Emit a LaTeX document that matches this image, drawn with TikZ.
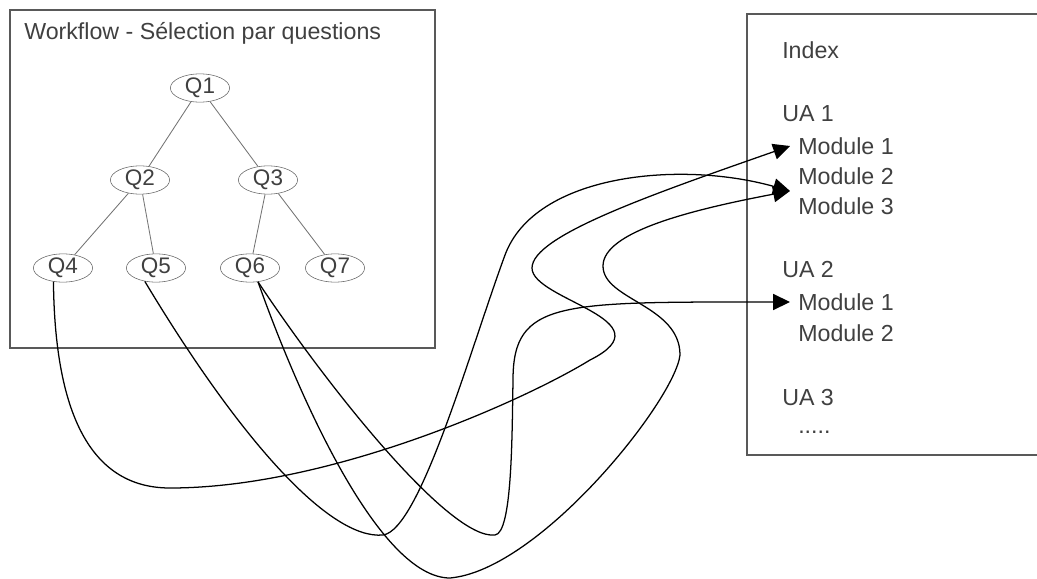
\documentclass[tikz,border=0pt]{standalone}
\usepackage{fontspec}
\setmainfont{Liberation Sans}
\usetikzlibrary{shapes.geometric,arrows.meta,calc}

\begin{document}
\begin{tikzpicture}[x=0.025cm,y=-0.025cm,
question/.style={ellipse, draw=black!60, text=black!75, minimum width=1.48cm,
  minimum height=0.64cm, inner sep=0pt, font=\fontsize{16}{19}\selectfont},
entry/.style={anchor=west, text=black!75, inner sep=0pt, font=\fontsize{16.5}{19}\selectfont},
module/.style={entry, inner xsep=0.2cm},
branch/.style={draw=black!55, line width=0.6pt},
frame/.style={draw=black!65, line width=0.8pt},
link/.style={line width=0.9pt, -{Triangle[length=0.42cm,width=0.4cm]}}
]
\useasboundingbox (0,0) rectangle (1037,578);

% Draw the workflow frame and its title
\draw[frame] (10,10) rectangle (435,348);
\node[entry] (title) at (24,33) {Workflow - Sélection par questions};

% Question tree
\node[question] (q1) at (200,88) {Q1};
\node[question] (q2) at (140,180) {Q2};
\node[question] (q3) at (268,180) {Q3};
\node[question] (q4) at (63,268) {Q4};
\node[question] (q5) at (156,268) {Q5};
\node[question] (q6) at (250,268) {Q6};
\node[question] (q7) at (335,268) {Q7};

\draw[branch] (q1) -- (q2);
\draw[branch] (q1) -- (q3);
\draw[branch] (q2) -- (q4);
\draw[branch] (q2) -- (q5);
\draw[branch] (q3) -- (q6);
\draw[branch] (q3) -- (q7);

% Draw the index frame (open on the right)
\draw[frame] (1037,14) -- (747,14) -- (747,455) -- (1037,455);
\node[entry] (index) at (782,50) {Index};
\node[entry] (ua1) at (782,114) {UA 1};
\node[module] (m11) at (790,146) {Module 1};
\node[module] (m12) at (790,176) {Module 2};
\node[module] (m13) at (790,206) {Module 3};
\node[entry] (ua2) at (782,270) {UA 2};
\node[module] (m21) at (790,302) {Module 1};
\node[module] (m22) at (790,333) {Module 2};
\node[entry] (ua3) at (782,398) {UA 3};
\node[module] (more) at (790,432) {.....};
\coordinate (m23) at ($(m12.west)!0.5!(m13.west)$);

% Links from the questions to the modules
\draw[link] (q4.-125) .. controls (55,430) and (100,488) .. (170,488)
  .. controls (330,488) and (525,400) .. (590,360)
  .. controls (670,320) and (532,300) .. (532,268)
  .. controls (532,236) and (650,195) .. (m11.west);
\draw[link] (q5.-130) .. controls (240,440) and (330,540) .. (383,535)
  .. controls (420,530) and (470,350) .. (505,255)
  .. controls (535,174) and (680,160) .. (m23);
\draw[link] (q6.-60) .. controls (330,390) and (450,540) .. (495,535)
  .. controls (512,533) and (512,440) .. (513,380)
  .. controls (513,300) and (560,302) .. (m21.west);
\draw[link] (q6.-60) .. controls (300,400) and (380,578) .. (450,578)
  .. controls (540,570) and (675,400) .. (680,355)
  .. controls (680,305) and (603,300) .. (603,266)
  .. controls (603,232) and (690,210) .. (m23);

\end{tikzpicture}
\end{document}
